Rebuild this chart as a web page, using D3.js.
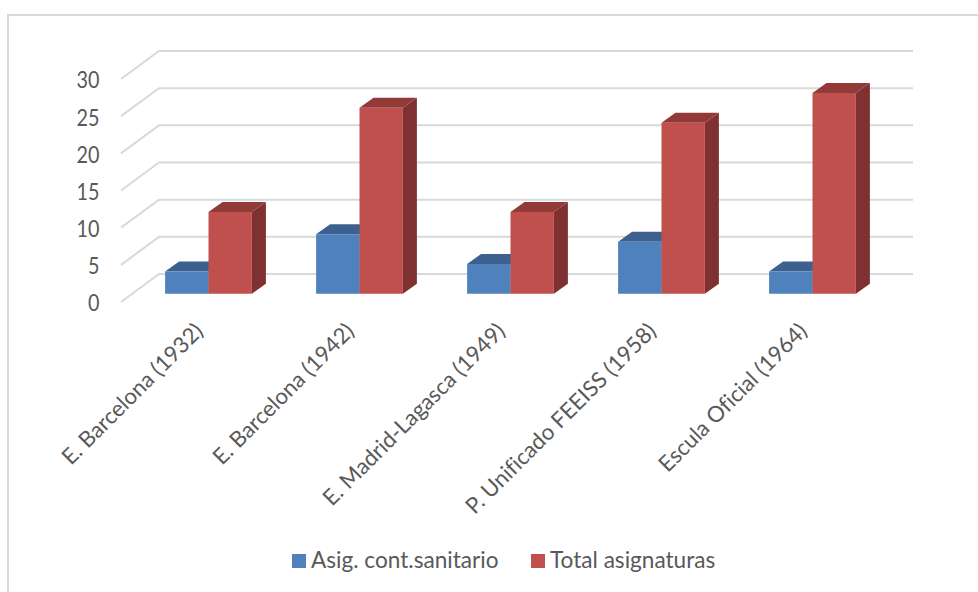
<!DOCTYPE html>
<html>
<head>
<meta charset="utf-8">
<script src="https://cdn.jsdelivr.net/npm/d3@7"></script>
<style>
html,body{margin:0;padding:0;background:#fff;}
svg{display:block;}
text{font-family:Lato,"Open Sans",sans-serif;fill:#595959;font-variant-ligatures:none;}
</style>
</head>
<body>
<div id="chart"></div>
<script>
const categories = ["E. Barcelona (1932)","E. Barcelona (1942)","E. Madrid-Lagasca (1949)","P. Unificado FEEISS (1958)","Escula Oficial (1964)"];
const seriesNames = ["Asig. cont.sanitario","Total asignaturas"];
const asigSanitario = [3,8,4,7,3];
const totalAsignaturas = [11,25,11,23,27];
const yTicks = [0,5,10,15,20,25,30];
const seriesFront = ["#4f81bd","#c0504d"];
const seriesTop = ["#3c618f","#923a38"];
const seriesSide = ["#335277","#7e3130"];

const width = 978, height = 592;
const svg = d3.select("#chart").append("svg").attr("width",width).attr("height",height);

// chart frame: only the top and left edges show
svg.append("path").attr("d","M8,592V15H978").attr("fill","none").attr("stroke","#d9d9d9").attr("stroke-width",2);

// the front plane of the axis box, and the offsets to its back wall and to the bars' face
const y = d3.scaleLinear().domain([0,30]).range([302,79]);
const x = d3.scaleBand().domain(categories).range([133,888]);
const wall = {dx:38,dy:-28};
const barFaceDy = -8.3;
const barDepth = {dx:14,dy:-10};
const barW = 43.4;

const grid = svg.append("g").attr("fill","none").attr("stroke","#d9d9d9").attr("stroke-width",2);
yTicks.forEach(t=>{
  const p = d3.path();
  p.moveTo(121,y(t));
  p.lineTo(121+wall.dx,y(t)+wall.dy);
  p.lineTo(913,y(t)+wall.dy);
  grid.append("path").attr("d",p.toString());
});

// tick digits are condensed a little so two of them span the same width as the axis font
svg.append("g").selectAll("text").data(yTicks).join("text")
  .attr("transform",d=>`translate(99.5,${y(d)+1.5}) scale(0.88,1)`)
  .attr("dy","0.35em")
  .attr("text-anchor","end").attr("font-size",22.5).text(d=>d);

// each column is a face, a roof and a side wall
function drawColumn(g,cat,value,idx){
  const x0 = x(cat)+x.bandwidth()/2+(idx-1)*barW;
  const x1 = x0+barW;
  const base = y(0)+barFaceDy;
  const top = y(value)+barFaceDy;
  const quad = pts=>d3.line()(pts)+"Z";
  g.append("path").attr("fill",seriesSide[idx])
    .attr("d",quad([[x1,top],[x1+barDepth.dx,top+barDepth.dy],[x1+barDepth.dx,base+barDepth.dy],[x1,base]]));
  g.append("path").attr("fill",seriesTop[idx])
    .attr("d",quad([[x0,top],[x0+barDepth.dx,top+barDepth.dy],[x1+barDepth.dx,top+barDepth.dy],[x1,top]]));
  g.append("path").attr("fill",seriesFront[idx])
    .attr("d",quad([[x0,top],[x1,top],[x1,base],[x0,base]]));
}
const bars = svg.append("g");
categories.forEach((c,i)=>{
  drawColumn(bars,c,asigSanitario[i],0);
  drawColumn(bars,c,totalAsignaturas[i],1);
});

svg.append("g").selectAll("text").data(categories).join("text")
  .attr("text-anchor","end").attr("font-size",22.2)
  .attr("transform",d=>`translate(${x(d)+x.bandwidth()/2-4},${332.5}) rotate(-45)`)
  .text(d=>d);

// legend
const legendItems = [{x:292,tx:311},{x:531,tx:550}];
const legend = svg.append("g");
seriesNames.forEach((n,i)=>{
  legend.append("rect").attr("x",legendItems[i].x).attr("y",554).attr("width",14).attr("height",14).attr("fill",seriesFront[i]);
  legend.append("text").attr("x",legendItems[i].tx).attr("y",568).attr("font-size",22.6).text(n);
});
</script>
</body>
</html>
